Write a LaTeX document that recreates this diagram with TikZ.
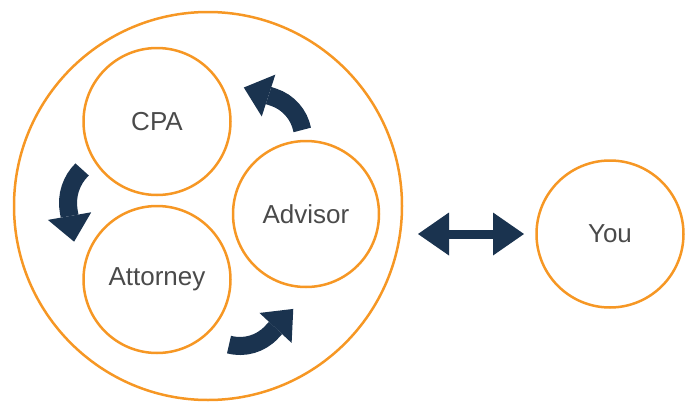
\documentclass[tikz,border=0pt]{standalone}
\usepackage{fontspec}
\setmainfont{Liberation Sans}
\usetikzlibrary{arrows.meta}

\definecolor{laranja}{RGB}{246,151,36}
\definecolor{azul}{RGB}{26,51,79}
\definecolor{cinza}{RGB}{74,74,74}

\tikzset{
	circulo/.style={circle, draw=laranja, line width=2.5pt, inner sep=0pt, minimum size=147pt, text=cinza, font=\fontsize{26}{31}\selectfont},
	seta/.style={draw=azul, line width=18pt, -{Triangle[length=26pt, width=44pt, line width=0pt]}},
	setadupla/.style={draw=azul, line width=9pt, {Triangle[length=31pt, width=43pt, line width=0pt]}-{Triangle[length=31pt, width=43pt, line width=0pt]}}
}

\begin{document}
\begin{tikzpicture}[x=1pt, y=-1pt]
				
				\useasboundingbox (0,0) rectangle (686,402);
				
				% Círculo grande e os três de dentro
				\node[circulo, minimum size=388pt] (equipe) at (208,206) {};
				\node[circulo] (cpa) at (157,121.5) {CPA};
				\node[circulo] (advogado) at (157,279.5) {Attorney};
				\node[circulo, minimum size=146pt] (consultor) at (306,214) {Advisor};
				\node[circulo] (voce) at (610,234) {You};
				
				% Centros das setas curvas
				\coordinate (c1) at (260,138);
				\coordinate (c2) at (115,203);
				\coordinate (c3) at (240,303);
				
				\draw[seta] ([shift={(-10.8:43)}]c1) arc[start angle=-10.8, end angle=-72, radius=43] -- ++(-162:31);
				\draw[seta] ([shift={(225.6:47)}]c2) arc[start angle=225.6, end angle=170, radius=47] -- ++(80:31);
				\draw[seta] ([shift={(104.8:43)}]c3) arc[start angle=104.8, end angle=43, radius=43] -- ++(-47:32);
				
				% Seta dupla até o You
				\draw[setadupla, shorten <=14.75pt, shorten >=11.25pt] (voce.west -| equipe.east) -- (voce.west);
				
			\end{tikzpicture}
\end{document}
